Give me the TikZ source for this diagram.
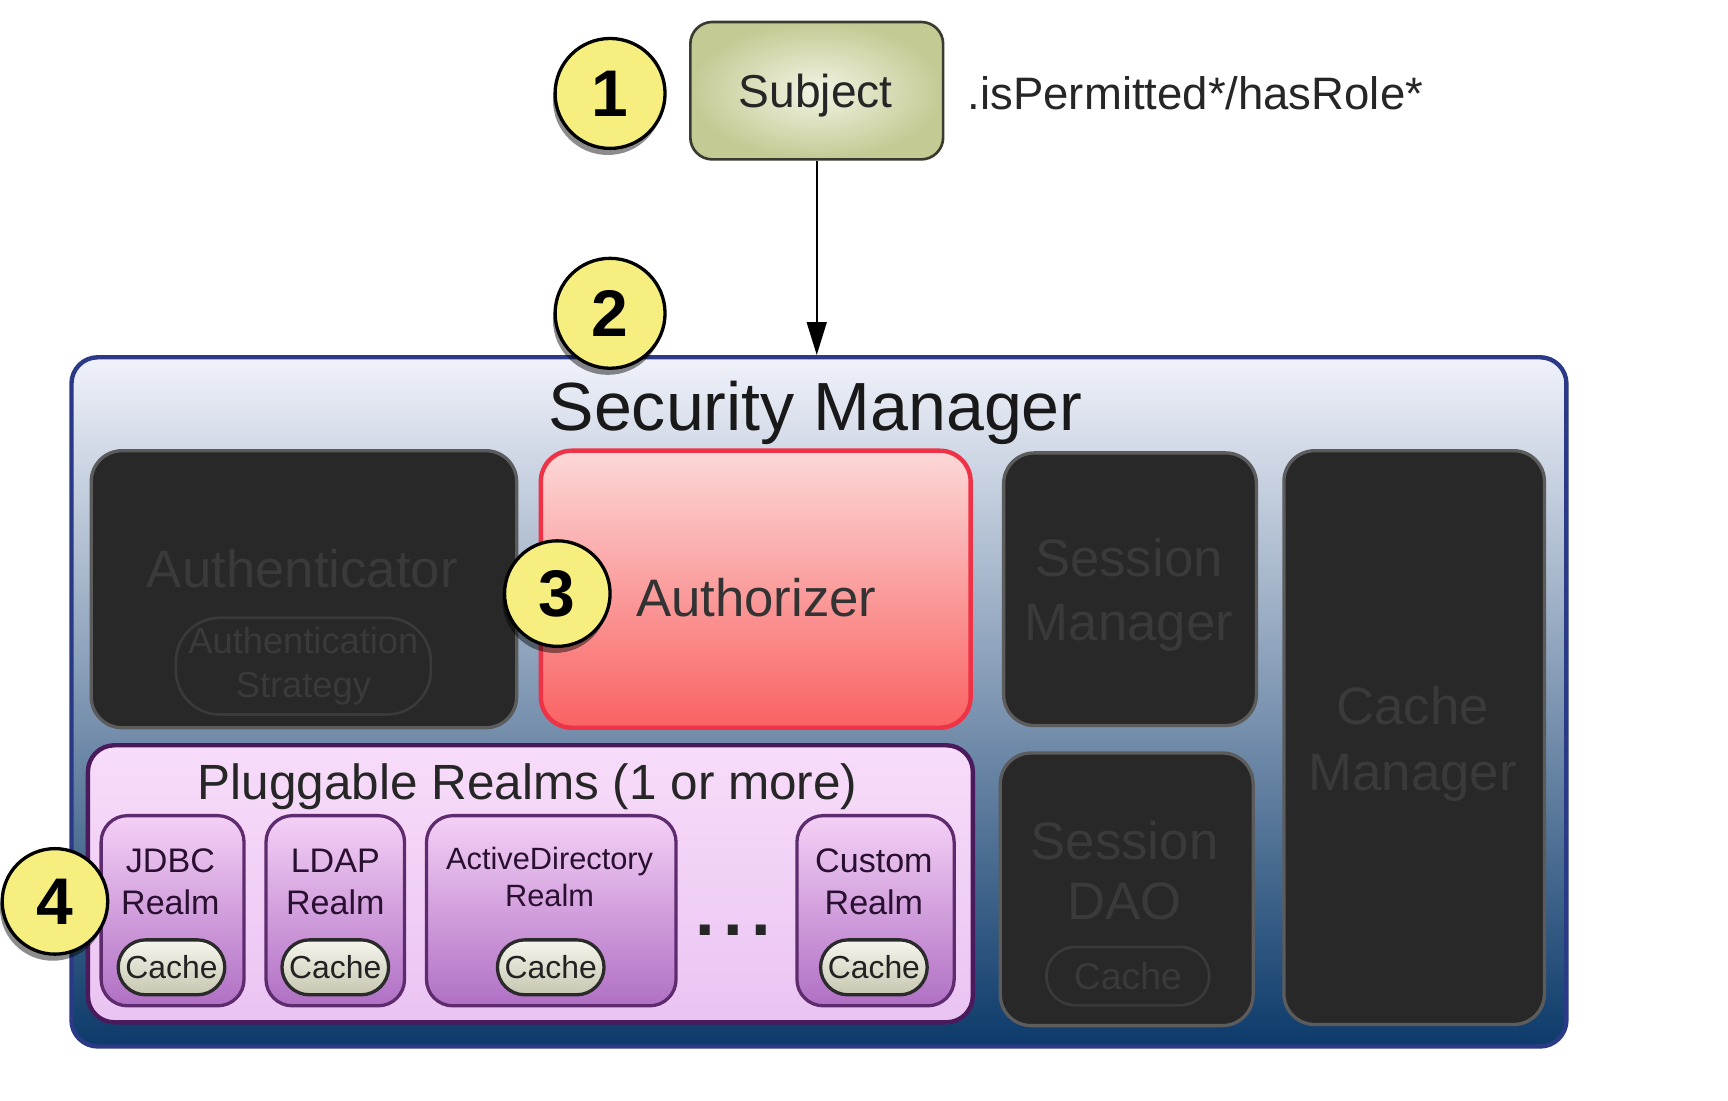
\documentclass[tikz,border=0pt]{standalone}
\usepackage{fontspec}
\setmainfont{Liberation Sans}
\usetikzlibrary{shadows,arrows.meta}
\definecolor{numyellow}{HTML}{F6EE7E}
\definecolor{subjedge}{HTML}{3A3A30}
\definecolor{subjin}{HTML}{F2F4E4}
\definecolor{subjout}{HTML}{C4CA94}
\definecolor{smedge}{HTML}{2B3A86}
\definecolor{smtop}{HTML}{F0F2FA}
\definecolor{smmid}{HTML}{98ACBE}
\definecolor{smbot}{HTML}{0C3A6A}
\definecolor{dkfill}{HTML}{282828}
\definecolor{dkedge}{HTML}{5C5C5C}
\definecolor{fadegray}{HTML}{3A3A3A}
\definecolor{azedge}{HTML}{EE3346}
\definecolor{aztop}{HTML}{FCD8D8}
\definecolor{azbot}{HTML}{FA6262}
\definecolor{rlmedge}{HTML}{4A1A5C}
\definecolor{rlmtop}{HTML}{F8DCFA}
\definecolor{rlmbot}{HTML}{EAC4F2}
\definecolor{realmedge}{HTML}{5E2C6E}
\definecolor{realmtop}{HTML}{F4D0F6}
\definecolor{realmbot}{HTML}{B070C4}
\definecolor{realmtext}{HTML}{2A1030}
\definecolor{pilledge}{HTML}{2A2A2A}
\definecolor{pilltop}{HTML}{F6F6EE}
\definecolor{pillbot}{HTML}{C6C6B0}
\definecolor{pilltext}{HTML}{222222}
\tikzset{
  darkbox/.style={draw=dkedge, line width=1.5pt, fill=dkfill, rounded corners=14pt, inner sep=0},
  fadetxt/.style={text=fadegray, font=\fontsize{24}{29}\selectfont, align=center, inner sep=0},
  numc/.style={circle, draw=black, line width=1.5pt, fill=numyellow, inner sep=0,
    font=\fontsize{30}{30}\selectfont\bfseries,
    drop shadow={shadow xshift=-1pt, shadow yshift=-3pt, opacity=0.45, fill=black}},
  realmbox/.style={draw=realmedge, line width=1.5pt, top color=realmtop, bottom color=realmbot,
    rounded corners=12pt, inner sep=0, minimum height=86.5pt},
  realmtxt/.style={text=realmtext, font=\fontsize{15.5}{19}\selectfont, align=center, inner sep=0},
  cachepill/.style={draw=pilledge, line width=1.5pt, top color=pilltop, bottom color=pillbot,
    rounded corners=12.5pt, minimum width=48.5pt, minimum height=25pt, inner sep=0,
    font=\fontsize{14.5}{14.5}\selectfont, text=pilltext},
}
\begin{document}
\begin{tikzpicture}[x=0.5pt,y=-0.5pt]
\useasboundingbox (0,0) rectangle (1572,1001);
\fill[white] (0,0) rectangle (1572,1001);

% Subject
\node[draw=subjedge, line width=1.2pt, rounded corners=10pt, inner color=subjin, outer color=subjout,
  minimum width=115pt, minimum height=62.5pt, inner sep=0] (subject) at (743,82.5) {};
\node[inner sep=0, text=black!85, font=\fontsize{21}{21}\selectfont] (subjtxt) at (742,87) {Subject};
\node[anchor=west, inner sep=0, text=black!85, font=\fontsize{20.7}{21}\selectfont] (meth) at (880,85) {.isPermitted*/hasRole*};

% Security manager
\node[draw=smedge, line width=2pt, rounded corners=12pt, top color=smtop, middle color=smmid, bottom color=smbot,
  minimum width=680pt, minimum height=313.5pt, inner sep=0] (sm) at (745,638.5) {};
\node[inner sep=0, text=black!90, font=\fontsize{31}{31}\selectfont] (smtitle) at (742,376) {Security Manager};

\draw[line width=1pt, -{Triangle[length=15pt,width=9pt]}] (subject.south) -- (subject.south |- sm.north);

% Authenticator
\node[darkbox, minimum width=193.5pt, minimum height=126pt] (auth) at (276.5,536) {};
\node[fadetxt] (authtxt) at (275,517) {Authenticator};
\node[draw=fadegray, line width=1.2pt, rounded corners=20pt, minimum width=116pt, minimum height=44pt, inner sep=0,
  text=fadegray, font=\fontsize{16.5}{20}\selectfont, align=center] (strat) at (276,606) {Authentication\\Strategy};

% Authorizer
\node[draw=azedge, line width=2pt, rounded corners=14pt, top color=aztop, bottom color=azbot,
  minimum width=195.5pt, minimum height=126pt, inner sep=0] (authz) at (687.5,536) {};
\node[inner sep=0, text=black!80, font=\fontsize{24}{24}\selectfont] (authztxt) at (688,544) {Authorizer};

% Session manager
\node[darkbox, minimum width=115pt, minimum height=124pt] (sessmgr) at (1028,536) {};
\node[fadetxt] (sessmgrtxt) at (1027,541) {Session\\Manager};

% Session DAO
\node[darkbox, minimum width=115pt, minimum height=124pt] (sessdao) at (1025,809) {};
\node[fadetxt, font=\fontsize{24}{27}\selectfont] (sessdaotxt) at (1023,792) {Session\\DAO};
\node[draw=fadegray, line width=1.2pt, rounded corners=13pt, minimum width=74pt, minimum height=26.5pt, inner sep=0,
  text=fadegray, font=\fontsize{17}{17}\selectfont] (daocache) at (1026,888) {Cache};

% Cache manager
\node[darkbox, minimum width=118.5pt, minimum height=261pt] (cachemgr) at (1286.5,671) {};
\node[fadetxt, font=\fontsize{24}{30}\selectfont] (cachemgrtxt) at (1285,677) {Cache\\Manager};

% Pluggable realms
\node[draw=rlmedge, line width=2pt, rounded corners=12pt, top color=rlmtop, bottom color=rlmbot,
  minimum width=402.5pt, minimum height=126pt, inner sep=0] (realms) at (482.5,804) {};
\node[inner sep=0, text=black!85, font=\fontsize{22.5}{22.5}\selectfont] (realmstxt) at (480,716) {Pluggable Realms (1 or more)};

\node[realmbox, minimum width=65pt] (jdbc) at (157,828.5) {};
\node[realmtxt] (jdbctxt) at (155,802) {JDBC\\Realm};
\node[cachepill] (jdbccache) at (156,880) {Cache};

\node[realmbox, minimum width=63pt] (ldap) at (305,828.5) {};
\node[realmtxt] (ldaptxt) at (305,802) {LDAP\\Realm};
\node[cachepill] (ldapcache) at (305,880) {Cache};

\node[realmbox, minimum width=113.5pt] (ad) at (501.5,828.5) {};
\node[realmtxt, font=\fontsize{14}{17}\selectfont] (adtxt) at (500,798) {ActiveDirectory\\Realm};
\node[cachepill] (adcache) at (501,880) {Cache};

\node[inner sep=0, text=black!85, font=\fontsize{32}{32}\selectfont\bfseries] (dots) at (667,846) {.\hspace{4pt}.\hspace{4pt}.};

\node[realmbox, minimum width=71.5pt] (custom) at (796.5,828.5) {};
\node[realmtxt] (customtxt) at (795,802) {Custom\\Realm};
\node[cachepill] (customcache) at (795,880) {Cache};

% Number circles
\node[numc, minimum size=50pt] (n1) at (555,85) {1};
\node[numc, minimum size=50pt] (n2) at (555,285) {2};
\node[numc, minimum size=48pt] (n3) at (507,540) {3};
\node[numc, minimum size=48pt] (n4) at (50,820) {4};
\end{tikzpicture}
\end{document}
